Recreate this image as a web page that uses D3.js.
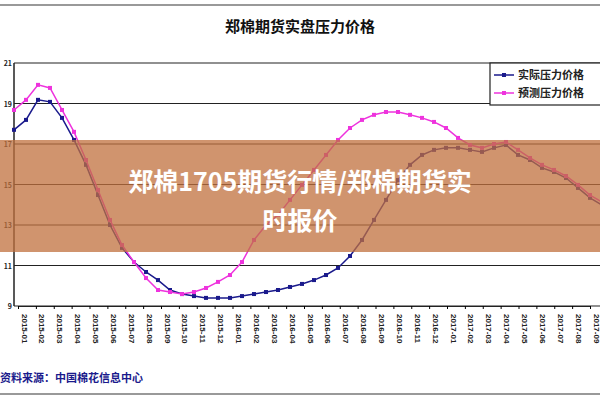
<!DOCTYPE html>
<html><head><meta charset="utf-8">
<script src="https://cdn.jsdelivr.net/npm/d3@7"></script>
<style>body{margin:0;background:#fff}svg{display:block;font-family:"Noto Sans CJK SC",sans-serif}</style>
</head><body><svg id="c" width="600" height="400"></svg>
<script>
const actual = [17700,18190,19180,19080,18290,17200,15970,14480,13000,11870,11170,10680,10280,9790,9590,9490,9400,9400,9400,9490,9590,9690,9790,9940,10090,10280,10530,10880,11470,12260,13250,14240,15220,15970,16460,16710,16810,16810,16710,16610,16810,16950,16460,16210,15820,15620,15320,14830,14340,13990];
const forecast = [18680,19180,19920,19770,18680,17600,16210,14730,13250,12010,11170,10380,9790,9690,9590,9690,9890,10190,10530,11170,12260,13000,13500,14240,14980,15720,16460,17200,17790,18190,18440,18580,18580,18440,18290,18090,17790,17300,16950,16810,17000,17100,16710,16310,15970,15720,15420,14980,14480,14140];
const xLabels = d3.range(33).map(i => { const m = (i % 12) + 1; return (2015 + Math.floor(i / 12)) + "-" + (m < 10 ? "0" + m : m); });
const yTicks = [9000,11000,13000,15000,17000,19000,21000];
const seriesNames = ["实际压力价格", "预测压力价格"];

const svg = d3.select("#c");
const L = 14, R = 602, T = 63, B = 306;
const x = d3.scaleLinear().domain([0, actual.length - 1]).range([L, R]);
const xl = d3.scalePoint().domain(xLabels).range([L + 4, 590]);
const y = d3.scaleLinear().domain([9000, 21000]).range([B, T]);

svg.append("line").attr("x1",0).attr("x2",600).attr("y1",5).attr("y2",5).attr("stroke","#999").attr("stroke-width",2);
svg.append("line").attr("x1",0).attr("x2",600).attr("y1",394).attr("y2",394).attr("stroke","#999").attr("stroke-width",2);

svg.append("text").attr("x",300).attr("y",32).attr("text-anchor","middle").attr("font-size",15).attr("font-weight","bold").attr("fill","#111").text("郑棉期货实盘压力价格");

svg.append("g").selectAll("line").data(yTicks).join("line")
  .attr("x1",L).attr("x2",R).attr("y1",d=>y(d)).attr("y2",d=>y(d)).attr("stroke","#222").attr("stroke-width",1.2);
svg.append("line").attr("x1",L).attr("x2",L).attr("y1",T).attr("y2",B).attr("stroke","#222").attr("stroke-width",1.5);
svg.append("g").selectAll("text").data(yTicks).join("text")
  .attr("x",12).attr("y",d=>y(d)+3).attr("text-anchor","end").attr("font-size",7).attr("font-weight","bold").attr("fill","#222").text(d=>d/1000);

const xa = svg.append("g").attr("transform",`translate(0,${B})`).call(d3.axisBottom(xl).tickSize(3).tickSizeOuter(0));
xa.select(".domain").attr("stroke","#222");
xa.selectAll("text").attr("font-size",8).attr("font-weight","bold").attr("fill","#222")
  .attr("transform","rotate(90)").attr("text-anchor","start").attr("x",8).attr("y",-3).attr("dy",0);

const line = d3.line().x((d,i)=>x(i)).y(d=>y(d));
const cols = ["#1a1a8c", "#ee33dd"];
[actual, forecast].forEach((s,k) => {
  svg.append("path").datum(s).attr("d",line).attr("fill","none").attr("stroke",cols[k]).attr("stroke-width",1.5);
  svg.append("g").selectAll("rect").data(s).join("rect")
    .attr("x",(d,i)=>x(i)-2).attr("y",d=>y(d)-2).attr("width",4).attr("height",4).attr("fill",cols[k]);
});

const lg = svg.append("g").attr("transform","translate(490,63)");
lg.append("rect").attr("width",112).attr("height",42).attr("fill","#fff").attr("stroke","#222").attr("stroke-width",1.2);
seriesNames.forEach((n,k) => {
  const yy = 12 + k * 18;
  lg.append("line").attr("x1",4).attr("x2",24).attr("y1",yy).attr("y2",yy).attr("stroke",cols[k]).attr("stroke-width",1.5);
  lg.append("rect").attr("x",12).attr("y",yy-2).attr("width",4).attr("height",4).attr("fill",cols[k]);
  lg.append("text").attr("x",28).attr("y",yy+4).attr("font-size",11).attr("font-weight","bold").attr("fill","#222").text(n);
});

svg.append("text").attr("x",0).attr("y",382).attr("font-size",11).attr("font-weight","bold").attr("fill","#1a1a8c").text("资料来源：中国棉花信息中心");

svg.append("rect").attr("x",0).attr("y",140).attr("width",600).attr("height",112).attr("fill","#c0703e").attr("opacity",0.75);
svg.append("text").attr("x",300).attr("y",191).attr("text-anchor","middle").attr("font-size",25).attr("font-weight","bold").attr("fill","#fff").text("郑棉1705期货行情/郑棉期货实");
svg.append("text").attr("x",300).attr("y",230).attr("text-anchor","middle").attr("font-size",25).attr("font-weight","bold").attr("fill","#fff").text("时报价");
</script></body></html>
